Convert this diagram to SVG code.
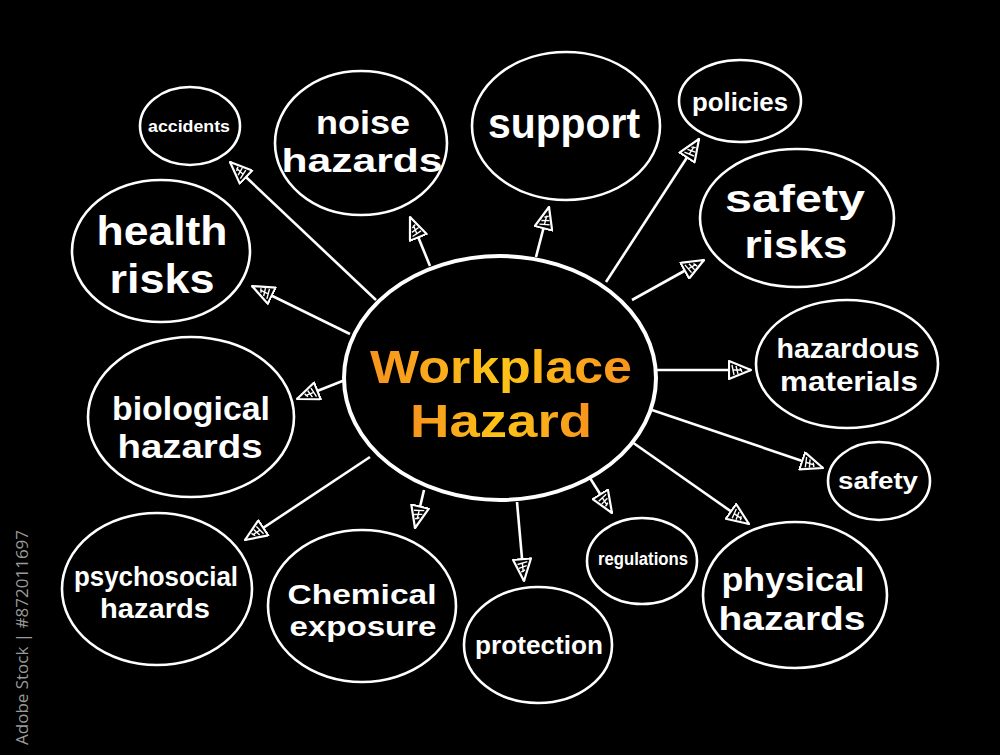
<svg xmlns="http://www.w3.org/2000/svg" width="1000" height="755" viewBox="0 0 1000 755">
<defs>
<style>
.bg{fill:#000}
.node{fill:#000;stroke:#fff;stroke-width:2.6}
.lbl{fill:#fff;font-family:"Liberation Sans",Arial,sans-serif;font-weight:700;text-anchor:middle}
.conn line{stroke:#fff;stroke-width:2.6;marker-end:url(#ah)}
.wm{fill:#9a9a9a;font-family:"Open Sans","Noto Sans",sans-serif;font-size:17px}
</style>
<linearGradient id="og" x1="0" y1="0" x2="1" y2="0">
<stop offset="0" stop-color="#f7931e"/>
<stop offset="0.5" stop-color="#fdc417"/>
<stop offset="1" stop-color="#f7931e"/>
</linearGradient>
<marker id="ah" viewBox="0 0 24 20" refX="23" refY="10" markerWidth="24" markerHeight="20" markerUnits="userSpaceOnUse" orient="auto">
<path d="M1,1 L23,10 L1,19 Z" fill="#000" stroke="#fff" stroke-width="2.2" stroke-linejoin="round"/>
<path d="M4,5 L6,15 M8,6 L10,14 M12,8 L14,12 M5,10 L14,10" stroke="#fff" stroke-width="1.4" fill="none"/>
</marker>
</defs>
<rect class="bg" width="1000" height="755"/>
<text class="wm" transform="translate(28,745) rotate(-90)">Adobe Stock | #872011697</text>

<g class="conn" id="connectors">
<line x1="376" y1="300" x2="230" y2="162"/>
<line x1="430" y1="266" x2="410" y2="217"/>
<line x1="536" y1="257" x2="549" y2="207"/>
<line x1="606" y1="282" x2="699" y2="139"/>
<line x1="632" y1="300" x2="704" y2="260"/>
<line x1="350" y1="334" x2="252" y2="286"/>
<line x1="657" y1="370" x2="751" y2="370"/>
<line x1="345" y1="380" x2="297" y2="399"/>
<line x1="652" y1="410" x2="823" y2="468"/>
<line x1="370" y1="457" x2="245" y2="540"/>
<line x1="424" y1="490" x2="415" y2="528"/>
<line x1="517" y1="502" x2="524" y2="581"/>
<line x1="590" y1="478" x2="612" y2="513"/>
<line x1="632" y1="442" x2="749" y2="524"/>
</g>

<g id="center">
<ellipse cx="500" cy="378" rx="156" ry="122" fill="#000" stroke="#fff" stroke-width="4"/>
<text x="501" y="383" font-family="'Liberation Sans',Arial,sans-serif" font-weight="700" font-size="47" fill="url(#og)" text-anchor="middle" textLength="262" lengthAdjust="spacingAndGlyphs">Workplace</text>
<text x="501" y="437" font-family="'Liberation Sans',Arial,sans-serif" font-weight="700" font-size="47" fill="url(#og)" text-anchor="middle" textLength="182" lengthAdjust="spacingAndGlyphs">Hazard</text>
</g>

<g id="accidents">
<ellipse class="node" cx="190" cy="126" rx="50" ry="39"/>
<text class="lbl" x="189" y="132" font-size="17" textLength="82" lengthAdjust="spacingAndGlyphs">accidents</text>
</g>
<g id="noise-hazards">
<ellipse class="node" cx="361" cy="143" rx="86" ry="72"/>
<text class="lbl" x="363" y="134" font-size="33" textLength="94" lengthAdjust="spacingAndGlyphs">noise</text>
<text class="lbl" x="362" y="172" font-size="33" textLength="161" lengthAdjust="spacingAndGlyphs">hazards</text>
</g>
<g id="support">
<ellipse class="node" cx="566" cy="126" rx="94" ry="74"/>
<text class="lbl" x="564" y="138" font-size="42" textLength="152" lengthAdjust="spacingAndGlyphs">support</text>
</g>
<g id="policies">
<ellipse class="node" cx="740" cy="101" rx="61" ry="41"/>
<text class="lbl" x="740" y="111" font-size="25" textLength="96" lengthAdjust="spacingAndGlyphs">policies</text>
</g>
<g id="safety-risks">
<ellipse class="node" cx="797" cy="218" rx="97" ry="69"/>
<text class="lbl" x="795" y="212" font-size="39" textLength="140" lengthAdjust="spacingAndGlyphs">safety</text>
<text class="lbl" x="796" y="258" font-size="39" textLength="103" lengthAdjust="spacingAndGlyphs">risks</text>
</g>
<g id="health-risks">
<ellipse class="node" cx="161" cy="251" rx="89" ry="71"/>
<text class="lbl" x="162" y="245" font-size="41" textLength="131" lengthAdjust="spacingAndGlyphs">health</text>
<text class="lbl" x="162" y="293" font-size="41" textLength="105" lengthAdjust="spacingAndGlyphs">risks</text>
</g>
<g id="hazardous-materials">
<ellipse class="node" cx="847" cy="364" rx="91" ry="64"/>
<text class="lbl" x="848" y="358" font-size="28" textLength="143" lengthAdjust="spacingAndGlyphs">hazardous</text>
<text class="lbl" x="849" y="391" font-size="28" textLength="138" lengthAdjust="spacingAndGlyphs">materials</text>
</g>
<g id="biological-hazards">
<ellipse class="node" cx="191" cy="417" rx="103" ry="80"/>
<text class="lbl" x="191" y="420" font-size="33" textLength="158" lengthAdjust="spacingAndGlyphs">biological</text>
<text class="lbl" x="190" y="458" font-size="33" textLength="145" lengthAdjust="spacingAndGlyphs">hazards</text>
</g>
<g id="safety">
<ellipse class="node" cx="879" cy="481" rx="51" ry="39"/>
<text class="lbl" x="878" y="489" font-size="23" textLength="80" lengthAdjust="spacingAndGlyphs">safety</text>
</g>
<g id="psychosocial-hazards">
<ellipse class="node" cx="157" cy="589" rx="95" ry="76"/>
<text class="lbl" x="156" y="586" font-size="27" textLength="164" lengthAdjust="spacingAndGlyphs">psychosocial</text>
<text class="lbl" x="155" y="618" font-size="27" textLength="110" lengthAdjust="spacingAndGlyphs">hazards</text>
</g>
<g id="chemical-exposure">
<ellipse class="node" cx="362" cy="606" rx="94" ry="76"/>
<text class="lbl" x="362" y="604" font-size="28" textLength="149" lengthAdjust="spacingAndGlyphs">Chemical</text>
<text class="lbl" x="363" y="636" font-size="28" textLength="147" lengthAdjust="spacingAndGlyphs">exposure</text>
</g>
<g id="protection">
<ellipse class="node" cx="538" cy="645" rx="74" ry="58"/>
<text class="lbl" x="539" y="654" font-size="26" textLength="128" lengthAdjust="spacingAndGlyphs">protection</text>
</g>
<g id="regulations">
<ellipse class="node" cx="642" cy="561" rx="55" ry="43"/>
<text class="lbl" x="643" y="565" font-size="18" textLength="90" lengthAdjust="spacingAndGlyphs">regulations</text>
</g>
<g id="physical-hazards">
<ellipse class="node" cx="795" cy="595" rx="92" ry="73"/>
<text class="lbl" x="793" y="591" font-size="33" textLength="143" lengthAdjust="spacingAndGlyphs">physical</text>
<text class="lbl" x="792" y="630" font-size="33" textLength="147" lengthAdjust="spacingAndGlyphs">hazards</text>
</g>
</svg>
